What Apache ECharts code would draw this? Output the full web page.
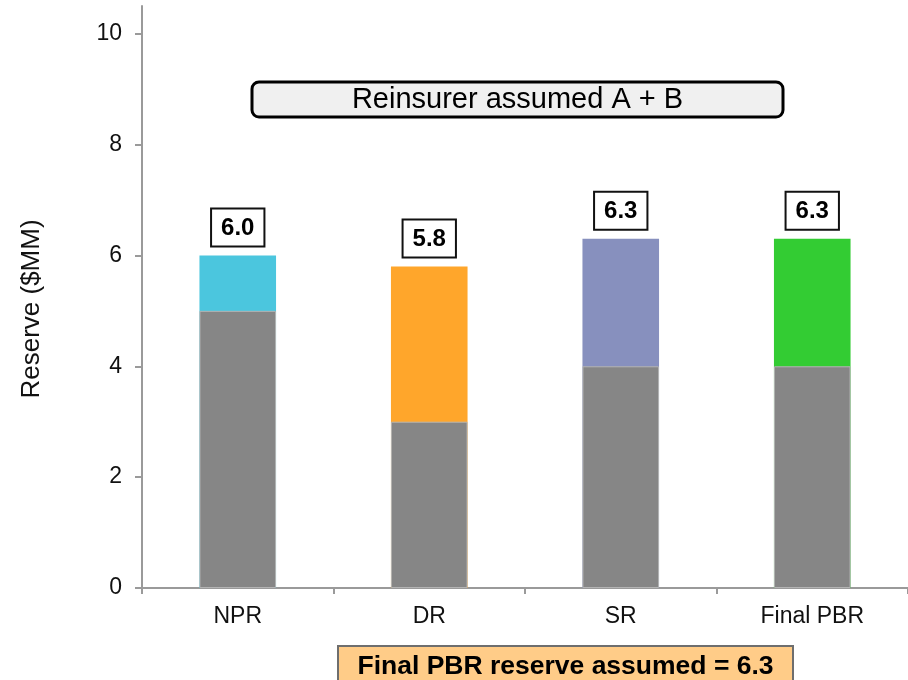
<!DOCTYPE html>
<html>
<head>
<meta charset="utf-8">
<script src="https://cdn.jsdelivr.net/npm/echarts@6/dist/echarts.min.js"></script>
<style>
  html, body { margin: 0; padding: 0; background: #ffffff; }
  #chart { width: 908px; height: 680px; }
</style>
</head>
<body>
<div id="chart"></div>
<script>
// Reserve by method (in $MM): total reserve and the common base portion
const categories = ['NPR', 'DR', 'SR', 'Final PBR'];
const totals = [6.0, 5.8, 6.3, 6.3];
const bases = [5, 3, 4, 4];
const topColors = ['#4BC6DE', '#FFA62B', '#8790BE', '#33CC33'];
const yTicks = [0, 2, 4, 6, 8, 10];
const panelTitle = 'Reinsurer assumed A + B';
const footnote = 'Final PBR reserve assumed = 6.3';
const yName = 'Reserve ($MM)';

const FONT = "'Liberation Sans', Arial, sans-serif";
const axisGray = '#9a9a9a';

const chart = echarts.init(document.getElementById('chart'), null, { renderer: 'canvas' });

chart.setOption({
  animation: false,
  backgroundColor: '#ffffff',
  textStyle: { fontFamily: FONT },
  grid: { left: 142, right: 0, top: 6, bottom: 92, containLabel: false },
  xAxis: {
    type: 'category',
    data: categories,
    boundaryGap: true,
    axisLine: { lineStyle: { color: axisGray, width: 2 } },
    axisTick: { show: true, length: 6, alignWithLabel: false, lineStyle: { color: axisGray, width: 2 } },
    axisLabel: { color: '#111', fontSize: 23, margin: 17, fontFamily: FONT },
    splitLine: { show: false }
  },
  yAxis: {
    type: 'value',
    min: 0,
    max: 10.5,
    interval: 2,
    name: yName,
    nameLocation: 'middle',
    nameRotate: 90,
    nameGap: 97,
    nameTextStyle: { color: '#111', fontSize: 26, fontFamily: FONT, padding: [0, 24, 0, 0] },
    axisLine: { show: true, lineStyle: { color: axisGray, width: 2 } },
    axisTick: { show: true, length: 7, customValues: yTicks, lineStyle: { color: axisGray, width: 2 } },
    axisLabel: { color: '#111', fontSize: 23, margin: 20, customValues: yTicks, fontFamily: FONT },
    splitLine: { show: false }
  },
  series: [
    {
      name: 'Total reserve',
      type: 'bar',
      barWidth: '40%',
      data: totals.map((v, i) => ({ value: v, itemStyle: { color: topColors[i] } })),
      label: {
        show: true,
        position: 'top',
        distance: 10,
        formatter: p => Number(p.value).toFixed(1),
        color: '#000',
        fontSize: 24,
        fontWeight: 'bold',
        fontFamily: FONT,
        lineHeight: 26,
        backgroundColor: '#ffffff',
        borderColor: '#111111',
        borderWidth: 2,
        padding: [6, 9, 4, 9]
      }
    },
    {
      name: 'Base reserve',
      type: 'bar',
      barWidth: '40%',
      barGap: '-100%',
      data: bases,
      itemStyle: { color: '#868686', borderColor: '#b4b4b4', borderWidth: 1 }
    }
  ],
  graphic: [
    {
      type: 'group',
      children: [
        {
          type: 'rect',
          shape: { x: 252, y: 82, width: 531, height: 35, r: 7 },
          style: { fill: '#f0f0f0', stroke: '#000000', lineWidth: 3 }
        },
        {
          type: 'text',
          x: 517.5,
          y: 100,
          style: {
            text: panelTitle,
            font: '29px ' + FONT,
            fill: '#000',
            textAlign: 'center',
            textVerticalAlign: 'middle'
          }
        }
      ]
    },
    {
      type: 'group',
      children: [
        {
          type: 'rect',
          shape: { x: 338, y: 646, width: 455, height: 50 },
          style: { fill: '#FFCC88', stroke: '#6e6e6e', lineWidth: 2 }
        },
        {
          type: 'text',
          x: 565.5,
          y: 667,
          style: {
            text: footnote,
            font: 'bold 26.5px ' + FONT,
            fill: '#000',
            textAlign: 'center',
            textVerticalAlign: 'middle'
          }
        }
      ]
    }
  ]
});
</script>
</body>
</html>
